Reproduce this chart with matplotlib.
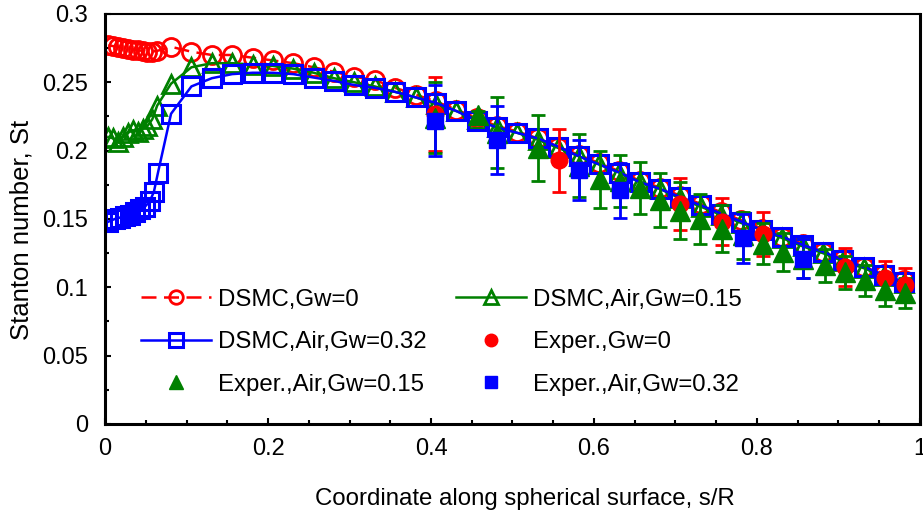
import matplotlib
matplotlib.use('Agg')
import matplotlib.pyplot as plt
from matplotlib.ticker import MultipleLocator, FuncFormatter

plt.rcParams['font.family'] = ['Liberation Sans', 'DejaVu Sans']

# DSMC, Gw=0 (red, open circles, dashed)
dsmc0_x = [0.004, 0.010, 0.016, 0.022, 0.028, 0.034, 0.040, 0.046, 0.052, 0.058, 0.064,
           0.081, 0.106, 0.131, 0.156, 0.181, 0.206, 0.231, 0.256, 0.281, 0.306, 0.331,
           0.356, 0.381, 0.406, 0.431, 0.456, 0.481, 0.506, 0.531, 0.556, 0.581, 0.606,
           0.631, 0.656, 0.681, 0.706, 0.731, 0.756, 0.781, 0.806, 0.831, 0.856, 0.881,
           0.906, 0.931, 0.956, 0.981]
dsmc0_y = [0.277, 0.2765, 0.276, 0.275, 0.2745, 0.274, 0.2735, 0.273, 0.2725, 0.2725, 0.273,
           0.276, 0.2724, 0.270, 0.270, 0.268, 0.266, 0.264, 0.261, 0.2577, 0.254, 0.2517,
           0.246, 0.241, 0.236, 0.230, 0.224, 0.218, 0.214, 0.209, 0.203, 0.197, 0.191,
           0.185, 0.178, 0.173, 0.167, 0.161, 0.155, 0.149, 0.143, 0.137, 0.132, 0.126,
           0.121, 0.115, 0.110, 0.105]

# DSMC, Air, Gw=0.15 (green, open triangles)
dsmc15_x = [0.004, 0.010, 0.016, 0.022, 0.028, 0.034, 0.040, 0.046, 0.052, 0.058, 0.064,
            0.081, 0.106, 0.131, 0.156, 0.181, 0.206, 0.231, 0.256, 0.281, 0.306, 0.331,
            0.356, 0.381, 0.406, 0.431, 0.456, 0.481, 0.506, 0.531, 0.556, 0.581, 0.606,
            0.631, 0.656, 0.681, 0.706, 0.731, 0.756, 0.781, 0.806, 0.831, 0.856, 0.881,
            0.906, 0.931, 0.956, 0.981]
dsmc15_y = [0.210, 0.209, 0.206, 0.210, 0.213, 0.215, 0.214, 0.216, 0.218, 0.223, 0.233,
            0.249, 0.261, 0.264, 0.264, 0.263, 0.262, 0.260, 0.257, 0.253, 0.250, 0.247,
            0.243, 0.239, 0.234, 0.229, 0.223, 0.217, 0.213, 0.208, 0.202, 0.196, 0.190,
            0.184, 0.177, 0.172, 0.165, 0.159, 0.153, 0.147, 0.142, 0.136, 0.130, 0.125,
            0.119, 0.114, 0.108, 0.103]

# DSMC, Air, Gw=0.32 (blue, open squares)
dsmc32_x = [0.004, 0.012, 0.018, 0.025, 0.031, 0.037, 0.043, 0.049, 0.055, 0.060, 0.065,
            0.081, 0.106, 0.131, 0.156, 0.181, 0.206, 0.231, 0.256, 0.281, 0.306, 0.331,
            0.356, 0.381, 0.406, 0.431, 0.456, 0.481, 0.506, 0.531, 0.556, 0.581, 0.606,
            0.631, 0.656, 0.681, 0.706, 0.731, 0.756, 0.781, 0.806, 0.831, 0.856, 0.881,
            0.906, 0.931, 0.956, 0.981]
dsmc32_y = [0.148, 0.150, 0.151, 0.152, 0.153, 0.155, 0.157, 0.159, 0.163, 0.170, 0.184,
            0.227, 0.247, 0.253, 0.256, 0.257, 0.257, 0.256, 0.2535, 0.251, 0.248, 0.246,
            0.243, 0.239, 0.235, 0.229, 0.222, 0.217, 0.213, 0.209, 0.203, 0.196, 0.190,
            0.184, 0.177, 0.172, 0.166, 0.160, 0.154, 0.148, 0.142, 0.137, 0.131, 0.126,
            0.120, 0.115, 0.109, 0.104]

# Experiments (value and +/- error)
exp0_x = [0.405, 0.557, 0.706, 0.757, 0.808, 0.908, 0.957, 0.982]
exp0_y = [0.227, 0.193, 0.161, 0.148, 0.139, 0.115, 0.107, 0.102]
exp0_err = [0.027, 0.023, 0.019, 0.017, 0.016, 0.014, 0.012, 0.012]

exp15_x = [0.405, 0.458, 0.481, 0.531, 0.581, 0.607, 0.632, 0.656, 0.681, 0.706, 0.730,
           0.757, 0.783, 0.808, 0.832, 0.857, 0.883, 0.908, 0.933, 0.957, 0.982]
exp15_y = [0.224, 0.226, 0.213, 0.202, 0.189, 0.179, 0.178, 0.173, 0.164, 0.156, 0.150,
           0.143, 0.138, 0.132, 0.126, 0.121, 0.116, 0.111, 0.105, 0.098, 0.096]
exp15_err = [0.026, 0.003, 0.026, 0.024, 0.023, 0.021, 0.019, 0.019, 0.020, 0.021, 0.018,
             0.017, 0.017, 0.015, 0.014, 0.014, 0.012, 0.012, 0.011, 0.012, 0.011]

exp32_x = [0.405, 0.481, 0.581, 0.632, 0.783, 0.857]
exp32_y = [0.222, 0.208, 0.186, 0.171, 0.136, 0.121]
exp32_err = [0.026, 0.025, 0.022, 0.020, 0.018, 0.014]

RED, GREEN, BLUE = '#ff0000', '#008000', '#0000ff'

fig = plt.figure(figsize=(9.23, 5.16), dpi=100)
ax = fig.add_axes([0.1138, 0.1783, 0.8829, 0.7946])

l0, = ax.plot(dsmc0_x, dsmc0_y, color=RED, ls=(0, (6, 3)), lw=1.8, marker='o', ms=13,
              mfc='none', mec=RED, mew=2, label='DSMC,Gw=0')
l15, = ax.plot(dsmc15_x, dsmc15_y, color=GREEN, lw=1.8, marker='^', ms=13,
               mfc='none', mec=GREEN, mew=2, label='DSMC,Air,Gw=0.15')
l32, = ax.plot(dsmc32_x, dsmc32_y, color=BLUE, lw=1.8, marker='s', ms=13,
               mfc='none', mec=BLUE, mew=2.2, label='DSMC,Air,Gw=0.32')

eb_kw = dict(ls='none', elinewidth=2, capsize=5, capthick=2)
e0 = ax.errorbar(exp0_x, exp0_y, yerr=exp0_err, color=RED, marker='o', ms=12,
                 label='Exper.,Gw=0', **eb_kw)
e15 = ax.errorbar(exp15_x, exp15_y, yerr=exp15_err, color=GREEN, marker='^', ms=14,
                  label='Exper.,Air,Gw=0.15', **eb_kw)
e32 = ax.errorbar(exp32_x, exp32_y, yerr=exp32_err, color=BLUE, marker='s', ms=12,
                  label='Exper.,Air,Gw=0.32', **eb_kw)

ax.set_xlim(0, 1)
ax.set_ylim(0, 0.3)
ax.xaxis.set_major_locator(MultipleLocator(0.2))
ax.xaxis.set_minor_locator(MultipleLocator(0.05))
ax.yaxis.set_major_locator(MultipleLocator(0.05))
ax.yaxis.set_minor_locator(MultipleLocator(0.025))
fmt = FuncFormatter(lambda v, p: f'{v:g}')
ax.xaxis.set_major_formatter(fmt)
ax.yaxis.set_major_formatter(fmt)
ax.tick_params(which='both', direction='in', top=False, right=False, width=1.5, labelsize=17)
ax.tick_params(which='major', length=4)
ax.tick_params(which='minor', length=3)
ax.tick_params(axis='x', which='major', pad=10)
ax.tick_params(axis='y', which='major', pad=12)

for side in ['left', 'bottom', 'right']:
    ax.spines[side].set_linewidth(2.2)
ax.spines['top'].set_linewidth(1.5)

ax.set_xlabel('Coordinate along spherical surface, s/R', fontsize=17.3)
ax.xaxis.set_label_coords(0.515, -0.155)
ax.set_ylabel('Stanton number, St', fontsize=18.5)
ax.yaxis.set_label_coords(-0.088, 0.473)

handles = [l0, l32, e15[0], l15, e0[0], e32[0]]
labels = ['DSMC,Gw=0', 'DSMC,Air,Gw=0.32', 'Exper.,Air,Gw=0.15',
          'DSMC,Air,Gw=0.15', 'Exper.,Gw=0', 'Exper.,Air,Gw=0.32']
ax.legend(handles, labels, ncol=2, frameon=False, fontsize=17.3, loc='upper left',
          bbox_to_anchor=(0.044, 0.33), borderaxespad=0, borderpad=0,
          handlelength=2.9, handletextpad=0.3, columnspacing=1.25,
          labelspacing=0.85, markerscale=0.75)

fig.savefig('out.png', dpi=100)
